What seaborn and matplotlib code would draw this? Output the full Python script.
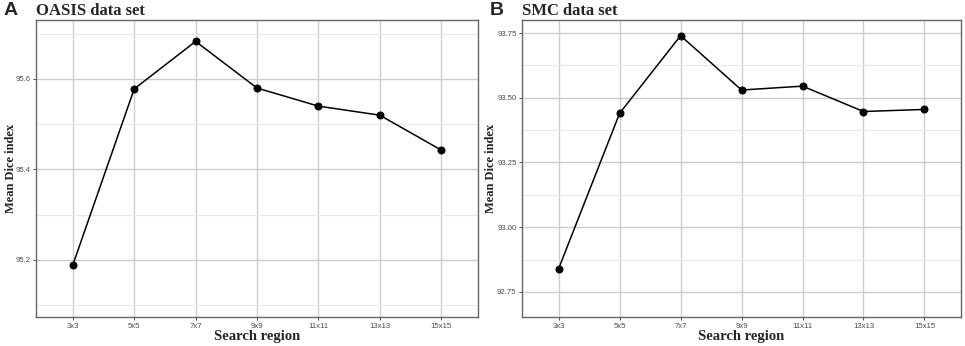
import numpy as np
import pandas as pd
import matplotlib as mpl
mpl.use("Agg")
import matplotlib.pyplot as plt
import seaborn as sns
from matplotlib.ticker import MultipleLocator

# Data
regions = ["3x3", "5x5", "7x7", "9x9", "11x11", "13x13", "15x15"]
oasis_dice = [95.189, 95.578, 95.683, 95.580, 95.540, 95.520, 95.443]
smc_dice = [92.84, 93.44, 93.74, 93.53, 93.545, 93.447, 93.455]

sns.set_theme(style="whitegrid")
plt.rcParams["font.family"] = ["Liberation Serif", "DejaVu Serif"]

fig = plt.figure(figsize=(9.65, 3.46), dpi=100)
ax_a = fig.add_axes([0.0373, 0.0838, 0.458, 0.858])
ax_b = fig.add_axes([0.541, 0.0838, 0.4549, 0.858])


def draw_panel(ax, values, title, letter, ylim, major, minor, fmt, ylab_x):
    df = pd.DataFrame({"region": regions, "dice": values})
    df["pos"] = np.arange(len(regions))
    sns.lineplot(data=df, x="pos", y="dice", ax=ax, color="black",
                 marker="o", markersize=5, markeredgecolor="black",
                 linewidth=1.1, sort=False, zorder=3)
    ax.set_xlim(-0.6, len(regions) - 1 + 0.6)
    ax.set_ylim(*ylim)
    ax.set_xticks(np.arange(len(regions)))
    ax.set_xticklabels(regions)
    ax.yaxis.set_major_locator(MultipleLocator(major))
    ax.yaxis.set_minor_locator(MultipleLocator(minor))
    ax.yaxis.set_major_formatter(mpl.ticker.FormatStrFormatter(fmt))
    ax.grid(which="major", color="#cccccc", linewidth=1.0)
    ax.grid(which="minor", axis="y", color="#e8e8e8", linewidth=0.8)
    ax.set_axisbelow(True)
    for s in ax.spines.values():
        s.set_color("#666666")
        s.set_linewidth(1.0)
    ax.tick_params(axis="both", which="major", length=2.5, width=0.6,
                   color="#333333", labelsize=5.6, labelcolor="#4d4d4d",
                   pad=1.5, left=True, bottom=True)
    ax.tick_params(axis="y", which="minor", length=0)
    for lab in ax.get_xticklabels() + ax.get_yticklabels():
        lab.set_family(["Liberation Sans", "DejaVu Sans"])
    ax.set_xlabel("Search region", fontsize=10.5, fontweight="bold", labelpad=0)
    ax.set_ylabel("")
    pos = ax.get_position()
    fig.text(ylab_x, (pos.y0 + pos.y1) / 2, "Mean Dice index", rotation=90,
             fontsize=9, fontweight="bold", ha="center", va="center")
    ax.set_title(title, loc="left", fontsize=12, fontweight="bold", pad=4)
    fig.text(pos.x0 - 0.034, 0.97, letter, fontsize=14, fontweight="bold",
             family=["Liberation Sans", "DejaVu Sans"], va="center", ha="left")


draw_panel(ax_a, oasis_dice, "OASIS data set", "A", (95.074, 95.73), 0.2, 0.1, "%.1f", 11 / 965)
draw_panel(ax_b, smc_dice, "SMC data set", "B", (92.653, 93.80), 0.25, 0.125, "%.2f", 491 / 965)

fig.savefig("out.png", dpi=100)
